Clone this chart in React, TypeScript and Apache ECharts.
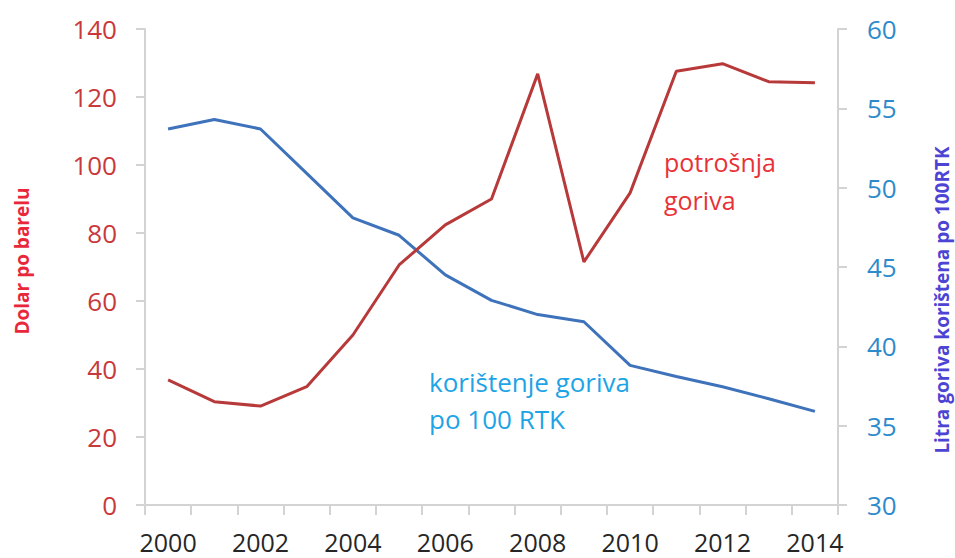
import React, { useEffect, useRef } from "react";
import * as echarts from "echarts";

const years = ["2000","2001","2002","2003","2004","2005","2006","2007","2008","2009","2010","2011","2012","2013","2014"];
const oilPrice = [36.8, 30.4, 29.1, 34.8, 50.0, 70.6, 82.4, 90.0, 126.8, 71.5, 91.8, 127.6, 129.8, 124.5, 124.2];
const fuelUse = [53.7, 54.3, 53.7, 50.9, 48.1, 47.0, 44.5, 42.9, 42.0, 41.55, 38.8, 38.1, 37.45, 36.7, 35.9];
const leftTitle = "Dolar po barelu";
const rightTitle = "Litra goriva korištena po 100RTK";
const redNote = ["potrošnja", "goriva"];
const blueNote = ["korištenje goriva", "po 100 RTK"];

const FONT = "'Open Sans', 'Noto Sans', sans-serif";

export default function App() {
  const ref = useRef<HTMLDivElement>(null);
  useEffect(() => {
    if (!ref.current) return;
    const chart = echarts.init(ref.current, null, { renderer: "svg" });
    const axisLine = { show: true, lineStyle: { color: "#d3d3d3", width: 2 } };
    const axisTick = { show: true, length: 9, lineStyle: { color: "#d3d3d3", width: 2 } };
    chart.setOption({
      animation: false,
      backgroundColor: "#ffffff",
      grid: { left: 145, right: 117, top: 29, bottom: 53, containLabel: false },
      xAxis: {
        type: "category",
        data: years,
        boundaryGap: true,
        axisLine,
        axisTick: { ...axisTick, length: 10, interval: 0, alignWithLabel: false },
        axisLabel: { interval: 1, color: "#262626", fontSize: 25, fontFamily: FONT, margin: 24 },
        splitLine: { show: false },
      },
      yAxis: [
        {
          type: "value",
          min: 0,
          max: 140,
          interval: 20,
          position: "left",
          axisLine,
          axisTick,
          splitLine: { show: false },
          axisLabel: { color: "#c8393b", fontSize: 26, fontFamily: FONT, margin: 28 },
        },
        {
          type: "value",
          min: 30,
          max: 60,
          interval: 5,
          position: "right",
          axisLine,
          axisTick,
          splitLine: { show: false },
          axisLabel: { color: "#2e8bcb", fontSize: 26, fontFamily: FONT, margin: 29 },
        },
      ],
      series: [
        {
          type: "line",
          name: leftTitle,
          yAxisIndex: 0,
          data: oilPrice,
          symbol: "none",
          lineStyle: { color: "#b8393a", width: 3 },
          itemStyle: { color: "#b8393a" },
          z: 3,
        },
        {
          type: "line",
          name: rightTitle,
          yAxisIndex: 1,
          data: fuelUse,
          symbol: "none",
          lineStyle: { color: "#3e73bb", width: 3 },
          itemStyle: { color: "#3e73bb" },
          z: 2,
        },
      ],
      graphic: [
        {
          type: "text",
          x: 22,
          y: 261,
          rotation: Math.PI / 2,
          style: {
            text: leftTitle,
            fill: "#e8283a",
            font: `bold 19px ${FONT}`,
            textAlign: "center",
            textVerticalAlign: "middle",
          },
        },
        {
          type: "text",
          x: 942,
          y: 300,
          rotation: Math.PI / 2,
          style: {
            text: rightTitle,
            fill: "#4c44d4",
            font: `bold 19px ${FONT}`,
            textAlign: "center",
            textVerticalAlign: "middle",
          },
        },
        {
          type: "text",
          x: 664,
          y: 181,
          style: {
            text: redNote.join("\n"),
            fill: "#e83237",
            font: `25px ${FONT}`,
            lineHeight: 38,
            textAlign: "left",
            textVerticalAlign: "middle",
          },
        },
        {
          type: "text",
          x: 429,
          y: 400,
          style: {
            text: blueNote.join("\n"),
            fill: "#1ea4e6",
            font: `26px ${FONT}`,
            lineHeight: 37,
            textAlign: "left",
            textVerticalAlign: "middle",
          },
        },
      ],
    });
    return () => chart.dispose();
  }, []);
  return (
    <div
      ref={ref}
      style={{ position: "absolute", left: 0, top: 0, width: 955, height: 558 }}
    />
  );
}
